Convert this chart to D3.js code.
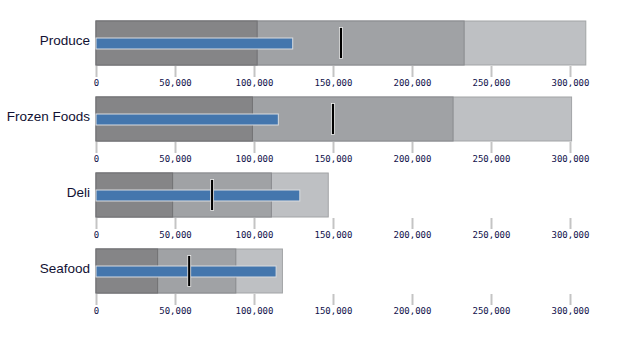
<!DOCTYPE html>
<html>
<head>
<meta charset="utf-8">
<script src="https://cdn.jsdelivr.net/npm/d3@7"></script>
<style>
  html, body { margin: 0; padding: 0; background: #fff; }
  svg { display: block; }
</style>
</head>
<body>
<svg id="chart" width="619" height="341"></svg>
<script>
// Bullet chart: sales by department against qualitative ranges and a target
const categories = ["Produce", "Frozen Foods", "Deli", "Seafood"];
const rangeLow   = [102000,  99000, 48500, 39000];
const rangeMid   = [233000, 226000, 111000, 88500];
const rangeHigh  = [310000, 301000, 147000, 118000];
const actuals    = [124500, 115400, 129000, 114000];
const targets    = [155000, 150000, 73500, 59000];
const tickValues = [0, 50000, 100000, 150000, 200000, 250000, 300000];

const svg = d3.select("#chart");
const x = d3.scaleLinear().domain([0, 300000]).range([96, 570]);
const fmt = d3.format(",");

const rangeColors = ["#858587", "#a0a2a5", "#bec0c3"];
const panelTop = 21, panelStep = 76, trackH = 44;

categories.forEach((cat, i) => {
  const g = svg.append("g").attr("transform", `translate(0,${panelTop + i * panelStep})`);
  const bands = [rangeHigh[i], rangeMid[i], rangeLow[i]];

  // qualitative bands, widest first
  g.selectAll("rect.band").data(bands).join("rect")
    .attr("class", "band")
    .attr("x", x(0))
    .attr("y", 0)
    .attr("width", d => x(d) - x(0))
    .attr("height", trackH)
    .attr("fill", (d, j) => rangeColors[2 - j])
    .attr("stroke", (d, j) => d3.color(rangeColors[2 - j]).darker(0.45))
    .attr("stroke-width", 1);

  // axis below the track
  const axis = d3.axisBottom(x).tickValues(tickValues).tickFormat(fmt).tickSize(11).tickSizeOuter(0);
  const ag = g.append("g").attr("transform", `translate(0,${trackH + 1})`).call(axis);
  ag.select(".domain").remove();
  ag.selectAll(".tick line").attr("stroke", "#c4c4c4").attr("stroke-width", 2);
  ag.selectAll(".tick text")
    .attr("y", 14)
    .attr("fill", "#10104a")
    .style("font-family", "'DejaVu Sans Mono', monospace")
    .style("font-size", "9px");

  // actual value
  g.append("rect")
    .attr("x", x(0))
    .attr("y", 17)
    .attr("width", x(actuals[i]) - x(0))
    .attr("height", 11)
    .attr("fill", "#4476ad")
    .attr("stroke", "#d9dce0")
    .attr("stroke-width", 1);

  // target marker
  g.append("rect")
    .attr("x", x(targets[i]) - 1.5)
    .attr("y", 6.5)
    .attr("width", 3)
    .attr("height", 31)
    .attr("fill", "#000")
    .attr("stroke", "#f0f0f0")
    .attr("stroke-width", 0.8);

  // category label
  g.append("text")
    .attr("x", 90)
    .attr("y", trackH / 2 - 3)
    .attr("dy", "0.35em")
    .attr("text-anchor", "end")
    .attr("fill", "#111133")
    .style("font-family", "'Liberation Sans', Arial, sans-serif")
    .style("font-size", "13.5px")
    .text(cat);
});
</script>
</body>
</html>
